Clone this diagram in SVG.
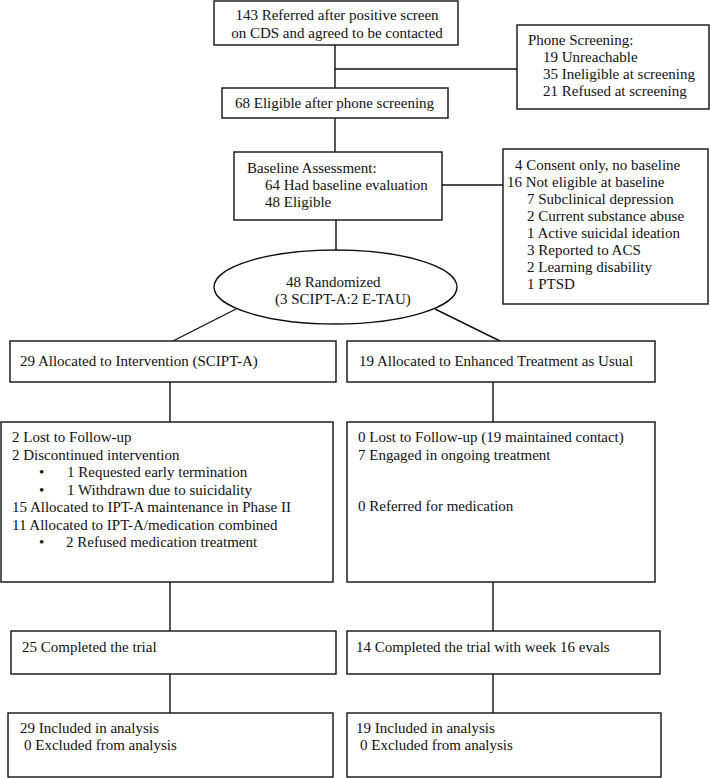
<svg xmlns="http://www.w3.org/2000/svg" width="710" height="778" viewBox="0 0 710 778">
<style>
.b{fill:#fff;stroke:#111;stroke-width:1.4}
.c{fill:none;stroke:#111;stroke-width:1.4}
text{font-family:"Liberation Serif","Times New Roman",serif;font-size:15px;fill:#111}
.m{text-anchor:middle}
</style>
<rect width="710" height="778" fill="#fff"/>
<g id="connectors">
<line class="c" x1="335" y1="45" x2="335" y2="88"/>
<line class="c" x1="335" y1="69" x2="517" y2="69"/>
<line class="c" x1="335" y1="118" x2="335" y2="152"/>
<line class="c" x1="442" y1="185" x2="503" y2="185"/>
<line class="c" x1="336" y1="220" x2="336" y2="250"/>
<line class="c" x1="236" y1="309" x2="173" y2="341"/>
<line class="c" x1="435" y1="309" x2="500" y2="341"/>
<line class="c" x1="170" y1="382" x2="170" y2="422"/>
<line class="c" x1="493" y1="382" x2="493" y2="422"/>
<line class="c" x1="170" y1="582" x2="170" y2="631"/>
<line class="c" x1="493" y1="582" x2="493" y2="631"/>
<line class="c" x1="170" y1="674" x2="170" y2="713"/>
<line class="c" x1="493" y1="674" x2="493" y2="713"/>
</g>
<g id="referred">
<rect class="b" x="214" y="1" width="244" height="44"/>
<text class="m" x="337" y="20">143 Referred after positive screen</text>
<text class="m" x="337" y="38">on CDS and agreed to be contacted</text>
</g>
<g id="phone">
<rect class="b" x="517" y="25" width="192" height="84"/>
<text x="528" y="45">Phone Screening:</text>
<text x="543" y="62">19 Unreachable</text>
<text x="543" y="79">35 Ineligible at screening</text>
<text x="543" y="96">21 Refused at screening</text>
</g>
<g id="eligible">
<rect class="b" x="222" y="88" width="226" height="30"/>
<text x="235" y="108">68 Eligible after phone screening</text>
</g>
<g id="baseline">
<rect class="b" x="234" y="152" width="208" height="68"/>
<text x="247" y="173">Baseline Assessment:</text>
<text x="265" y="190">64 Had baseline evaluation</text>
<text x="265" y="207">48 Eligible</text>
</g>
<g id="excluded">
<rect class="b" x="503" y="149" width="205" height="155"/>
<text x="515" y="170">4 Consent only, no baseline</text>
<text x="507" y="187">16 Not eligible at baseline</text>
<text x="527" y="204">7 Subclinical depression</text>
<text x="527" y="221">2 Current substance abuse</text>
<text x="527" y="238">1 Active suicidal ideation</text>
<text x="527" y="255">3 Reported to ACS</text>
<text x="527" y="272">2 Learning disability</text>
<text x="527" y="289">1 PTSD</text>
</g>
<g id="randomized">
<ellipse class="b" cx="335.5" cy="287" rx="121.5" ry="37"/>
<text x="286" y="287">48 Randomized</text>
<text x="275" y="304">(3 SCIPT-A:2 E-TAU)</text>
</g>
<g id="alloc-int">
<rect class="b" x="10" y="341" width="326" height="41"/>
<text x="20" y="366">29 Allocated to Intervention (SCIPT-A)</text>
</g>
<g id="alloc-tau">
<rect class="b" x="347" y="341" width="308" height="41"/>
<text x="359" y="366">19 Allocated to Enhanced Treatment as Usual</text>
</g>
<g id="follow-int">
<rect class="b" x="1" y="422" width="332" height="160"/>
<text x="12" y="442">2 Lost to Follow-up</text>
<text x="12" y="459.5">2 Discontinued intervention</text>
<text x="39" y="477">•</text>
<text x="67" y="477">1 Requested early termination</text>
<text x="39" y="494.5">•</text>
<text x="67" y="494.5">1 Withdrawn due to suicidality</text>
<text x="12" y="512">15 Allocated to IPT-A maintenance in Phase II</text>
<text x="12" y="529.5">11 Allocated to IPT-A/medication combined</text>
<text x="39" y="547">•</text>
<text x="66" y="547">2 Refused medication treatment</text>
</g>
<g id="follow-tau">
<rect class="b" x="347" y="422" width="308" height="160"/>
<text x="358" y="442">0 Lost to Follow-up (19 maintained contact)</text>
<text x="358" y="459.5">7 Engaged in ongoing treatment</text>
<text x="358" y="511">0 Referred for medication</text>
</g>
<g id="complete-int">
<rect class="b" x="11" y="631" width="325" height="43"/>
<text x="22" y="652">25 Completed the trial</text>
</g>
<g id="complete-tau">
<rect class="b" x="347" y="631" width="313" height="43"/>
<text x="356" y="652">14 Completed the trial with week 16 evals</text>
</g>
<g id="analysis-int">
<rect class="b" x="8" y="713" width="325" height="64"/>
<text x="20" y="733">29 Included in analysis</text>
<text x="24" y="750">0 Excluded from analysis</text>
</g>
<g id="analysis-tau">
<rect class="b" x="347" y="713" width="314" height="64"/>
<text x="356" y="733">19 Included in analysis</text>
<text x="360" y="750">0 Excluded from analysis</text>
</g>
</svg>
